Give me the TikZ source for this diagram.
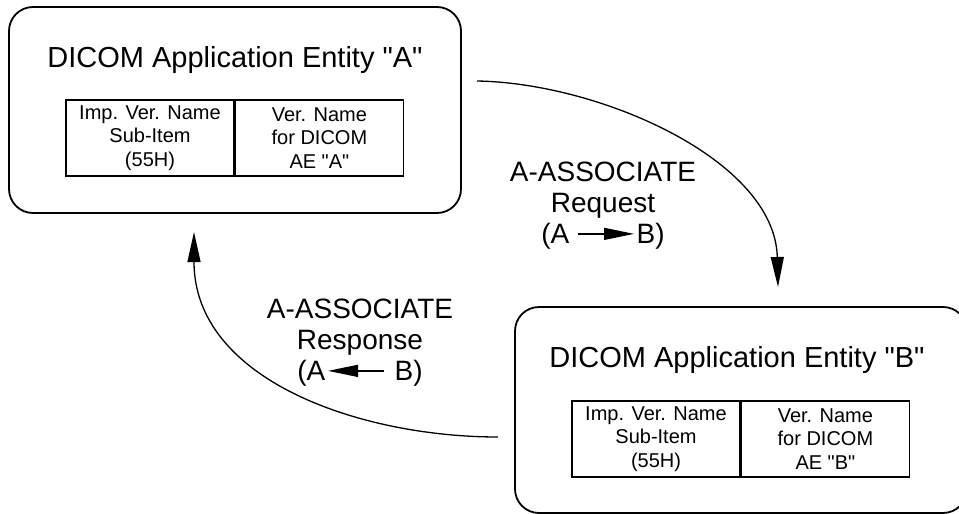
\documentclass[tikz,border=0pt]{standalone}
\usepackage{fontspec}
\setmainfont{Liberation Sans}[Ligatures=TeXOff]
\usetikzlibrary{arrows.meta,positioning}
\tikzset{
	entity/.style={draw, line width=1.8pt, rounded corners=24pt, minimum width=452pt, minimum height=206pt, inner sep=0pt},
	entitytitle/.style={anchor=base, inner sep=0pt, font=\fontsize{29}{31}\selectfont},
	subitem/.style={draw, line width=1.4pt, minimum width=168pt, minimum height=76pt, inner sep=0pt, align=center, font=\fontsize{20}{23.5}\selectfont},
	msg/.style={align=center, inner sep=0pt, font=\fontsize{28}{31}\selectfont},
	flow/.style={line width=1.3pt, -{Triangle[length=30pt,width=13pt]}}
}
\def\dirarrow#1{\tikz[baseline=-10pt]\draw[line width=1.3pt,#1] (0pt,0pt) -- (56pt,0pt);}

\begin{document}
\begin{tikzpicture}[x=1pt, y=-1pt]
		%%%%% START %%%%%
		\useasboundingbox (0,0) rectangle (959,514);
		
		\node[entity] (aeA) at (235,110) {};
		\node[entitytitle] (titleA) at (235,67) {DICOM Application Entity "A"};
		\node[subitem] (impA) at (150,138) {Imp. Ver. Name\\Sub-Item\\(55H)};
		\node[subitem, right=0pt of impA] (verA) {Ver. Name\\for DICOM\\AE "A"};
		
		\node[entity] (aeB) at (741,410) {};
		\node[entitytitle] (titleB) at (737,367) {DICOM Application Entity "B"};
		\node[subitem] (impB) at (656,439) {Imp. Ver. Name\\Sub-Item\\(55H)};
		\node[subitem, right=0pt of impB] (verB) {Ver. Name\\for DICOM\\AE "B"};
		
		\coordinate (reqfrom) at (477,81);
		\coordinate (reqto) at (778,287);
		\coordinate (rspfrom) at (498,437);
		\coordinate (rspto) at (194,232);
		
		\draw[flow] (reqfrom) .. controls (600,83) and (775,160) .. (reqto);
		\draw[flow] (rspfrom) .. controls (360,437) and (194,380) .. (rspto);
		
		\node[msg] (request) at (603,206) {A-ASSOCIATE\\Request\\(A\hspace{8pt}\dirarrow{-{Triangle[length=30pt,width=12pt]}}\hspace{2pt}B)};
		\node[msg] (response) at (360,343) {A-ASSOCIATE\\Response\\(A\hspace{2pt}\dirarrow{{Triangle[length=30pt,width=12pt]}-}\hspace{10pt}B)};
		%%%%% END %%%%%
\end{tikzpicture}
\end{document}
